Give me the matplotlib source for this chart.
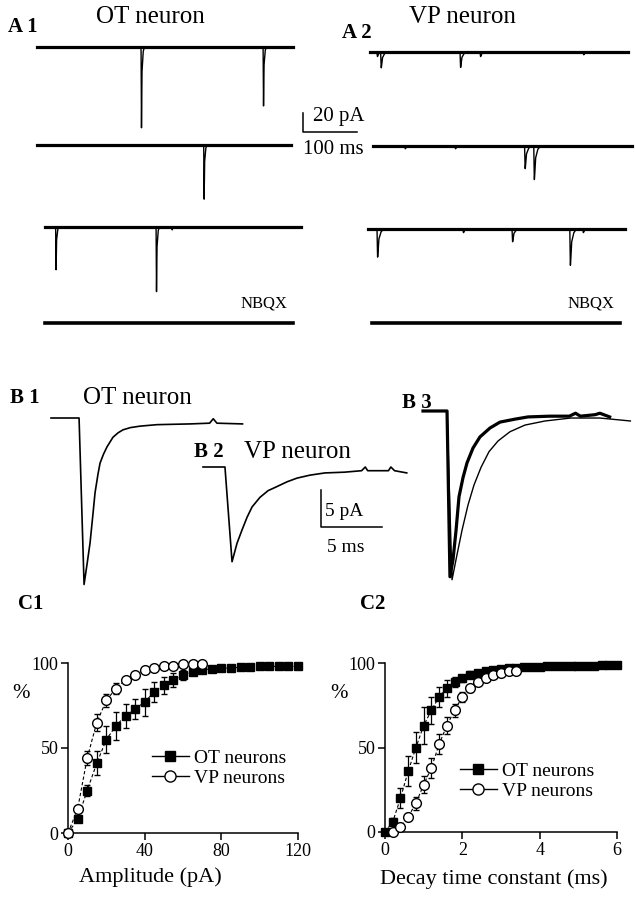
import numpy as np
import matplotlib
matplotlib.use('Agg')
import matplotlib.pyplot as plt
from matplotlib.lines import Line2D

plt.rcParams['font.family'] = ['Liberation Serif', 'DejaVu Serif']

W, H = 635, 899

# ---------------- data ----------------
# scale bars (value, length in picture pixels)
A_BAR_MS, A_BAR_PA = 100, 20
B_BAR_MS, B_BAR_PA = 5, 5

# panel A: spontaneous EPSCs -- sweep length (ms), event times (ms) and amplitudes (pA)
A1_SWEEP_MS = [474, 470, 474]
A1_EVENT_T = [[193, 419], [309], [20, 206, 235]]
A1_EVENT_AMP = [[85, 62], [57], [45, 68, 3]]

A2_SWEEP_MS = [478, 480, 476]
A2_EVENT_T = [[13, 20, 167, 204, 395], [59, 152, 281, 298], [17, 176, 267, 374, 398]]
A2_EVENT_AMP = [[5, 17, 17, 5, 3], [3, 3, 25, 37], [31, 4, 14, 40, 4]]

NBQX_SWEEP_MS = [459, 459]

# mEPSC shape used for the events in A (ms after onset, fraction of peak)
OT_SHAPE_T = [-0.3, 0.5, 1.5, 3.5, 6.0]
OT_SHAPE_F = [0.0, 1.0, 0.30, 0.06, 0.0]
VP_SHAPE_T = [-0.3, 0.8, 3.0, 7.0, 12.0]
VP_SHAPE_F = [0.0, 1.0, 0.35, 0.10, 0.0]

# panel B: averaged EPSCs (ms, pA)
B1_T = [0, 2.30, 2.71, 2.95, 3.20, 3.45, 3.61, 3.85, 4.02, 4.30, 4.59, 5.08, 5.50, 5.90, 6.50,
        7.30, 8.69, 11.4, 13.0, 13.3, 13.6, 15.7]
B1_I = [0, 0, -22.5, -19.8, -16.9, -12.8, -10.1, -7.6, -6.1, -4.9, -3.9, -2.6, -2.0, -1.6, -1.3,
        -1.1, -0.9, -0.8, -0.7, -0.1, -0.7, -0.8]
B2_T = [0, 1.80, 2.38, 2.79, 3.20, 3.61, 4.02, 4.67, 5.33, 5.99, 6.89, 7.71, 8.77, 10.0, 11.6,
        13.0, 13.3, 13.5, 15.2, 15.4, 15.7, 16.7]
B2_I = [0, 0, -12.8, -10.3, -8.5, -6.8, -5.4, -4.1, -3.2, -2.7, -2.0, -1.5, -1.1, -0.8, -0.7,
        -0.5, 0.0, -0.5, -0.5, 0.0, -0.5, -0.8]
# B3: normalised overlay
B3_OT_T = [0, 1.97, 2.21, 2.46, 2.71, 2.95, 3.28, 3.61, 4.10, 4.67, 5.49, 6.31, 7.54, 8.61, 10.4,
           12.0, 12.5, 12.9, 14.1, 14.5, 15.3]
B3_OT_I = [0, 0, -22.4, -20.1, -16.1, -11.6, -9.0, -7.0, -5.0, -3.5, -2.3, -1.5, -1.1, -0.8, -0.7,
           -0.7, -0.3, -0.7, -0.5, -0.3, -0.8]
B3_VP_T = [0, 1.97, 2.38, 2.79, 3.20, 3.69, 4.18, 4.76, 5.41, 6.15, 7.13, 8.36, 10.0, 12.1,
           14.5, 17.0]
B3_VP_I = [0, 0, -22.8, -19.4, -16.1, -12.7, -10.0, -7.6, -5.5, -4.05, -2.8, -1.9, -1.35, -0.95,
           -0.95, -1.35]

# panel C: cumulative distributions (%)
C1_OT_X = [0, 5, 10, 15, 20, 25, 30, 35, 40, 45, 50, 55, 60, 65, 70, 75, 80, 85, 90, 95, 100,
           105, 110, 115, 120]
C1_OT_Y = [0, 8, 25, 41, 55, 63, 69, 73, 77, 83, 87, 90, 93, 95, 96, 96.5, 97, 97, 97.5, 97.5,
           98, 98, 98, 98, 98]
C1_OT_E = [0, 1, 3, 7, 8, 8, 7, 6, 8, 6, 5, 4, 3, 2, 2, 1.5, 1, 1, 1, 0.5, 0.5, 0.5, 0.5, 0.5, 0.5]
C1_VP_X = [0, 5, 10, 15, 20, 25, 30, 35, 40, 45, 50, 55, 60, 65, 70]
C1_VP_Y = [0, 14, 44, 65, 78, 85, 90, 93, 96, 97, 98, 98.5, 99.5, 99.5, 99.5]
C1_VP_E = [0, 2, 4, 5, 4, 3, 2, 2, 1.5, 1, 1, 0.5, 0.5, 0.5, 0.5]

C2_OT_X = [0, 0.2, 0.4, 0.6, 0.8, 1.0, 1.2, 1.4, 1.6, 1.8, 2.0, 2.2, 2.4, 2.6, 2.8, 3.0, 3.2, 3.4,
           3.6, 3.8, 4.0, 4.2, 4.4, 4.6, 4.8, 5.0, 5.2, 5.4, 5.6, 5.8, 6.0]
C2_OT_Y = [0, 6, 20, 36, 50, 63, 72, 80, 85, 89, 91, 93, 94, 95, 96, 96.5, 97, 97, 97.5, 97.5,
           97.5, 98, 98, 98, 98, 98.5, 98.5, 98.5, 99, 99, 99]
C2_OT_E = [0, 2, 6, 9, 9, 11, 8, 6, 5, 3, 2, 2, 1.5, 1, 1, 1, 1, 0.5, 0.5, 0.5, 0.5, 0.5, 0.5,
           0.5, 0.5, 0.5, 0.5, 0.5, 0.5, 0.5, 0.5]
C2_VP_X = [0.2, 0.4, 0.6, 0.8, 1.0, 1.2, 1.4, 1.6, 1.8, 2.0, 2.2, 2.4, 2.6, 2.8, 3.0, 3.2, 3.4]
C2_VP_Y = [0, 3, 9, 17, 28, 38, 52, 63, 72, 80, 85, 89, 91, 93, 94, 95, 95.5]
C2_VP_E = [0, 1, 2, 4, 5, 6, 6, 5, 4, 3, 2, 2, 1.5, 1, 1, 1, 1]

SERIES = ['OT neurons', 'VP neurons']

# ---------------- helpers ----------------
fig = plt.figure(figsize=(W / 100, H / 100), dpi=100)


def px_axes(x0, y0, x1, y1):
    # rectangle in picture pixels, y measured downward
    ax = fig.add_axes([x0 / W, 1 - y1 / H, (x1 - x0) / W, (y1 - y0) / H])
    ax.set_axis_off()
    ax.patch.set_visible(False)
    return ax


def put(x, y, s, size, bold=False, **kw):
    kw.setdefault('va', 'center')
    fig.text(x / W, 1 - y / H, s, fontsize=size,
             fontweight='bold' if bold else 'normal', **kw)


def trace_axes(x0, ybase, length, ms_px, pa_px, above=14, below=140):
    w = length / ms_px
    ax = px_axes(x0, ybase - above, x0 + w, ybase + below)
    ax.set_xlim(0, length)
    ax.set_ylim(-below * pa_px, above * pa_px)
    return ax


def sweep(length, times, amps, shape_t, shape_f):
    t = np.arange(0, length + 0.25, 0.25)
    y = np.zeros_like(t)
    for et, amp in zip(times, amps):
        y -= amp * np.interp(t - et, shape_t, shape_f, left=0, right=0)
    return t, y


# ---------------- panel A ----------------
A_MS_PX = A_BAR_MS / 54.0
A_PA_PX = A_BAR_PA / 19.0

a1_pos = [(37, 47), (37, 145), (45, 227)]
a2_pos = [(370, 52), (373, 146), (368, 229)]
nbqx_pos = [(45, 323), (372, 323)]

for pos, lens, ts, amps, st, sf in [
        (a1_pos, A1_SWEEP_MS, A1_EVENT_T, A1_EVENT_AMP, OT_SHAPE_T, OT_SHAPE_F),
        (a2_pos, A2_SWEEP_MS, A2_EVENT_T, A2_EVENT_AMP, VP_SHAPE_T, VP_SHAPE_F)]:
    for (x0, yb), L, et, ea in zip(pos, lens, ts, amps):
        ax = trace_axes(x0, yb, L, A_MS_PX, A_PA_PX)
        t, y = sweep(L, et, ea, st, sf)
        ax.plot(t, y, color='black', lw=1.0, clip_on=False)
        ax.plot([0, L], [0, 0], color='black', lw=2.3, clip_on=False)

for (x0, yb), L in zip(nbqx_pos, NBQX_SWEEP_MS):
    ax = trace_axes(x0, yb, L, A_MS_PX, A_PA_PX)
    ax.plot([0, L], [0, 0], color='black', lw=2.6, clip_on=False)

sb = px_axes(303, 113, 357, 132)
sb.set_xlim(0, A_BAR_MS)
sb.set_ylim(0, A_BAR_PA)
sb.plot([0, 0, A_BAR_MS], [A_BAR_PA, 0, 0], color='black', lw=1.1, clip_on=False)

put(8, 27, 'A 1', 15, bold=True)
put(150, 17, 'OT neuron', 18, ha='center')
put(342, 33, 'A 2', 15, bold=True)
put(462, 17, 'VP neuron', 18, ha='center')
put(313, 116, '20 pA', 15)
put(303, 149, '100 ms', 15)
put(241, 304, 'NBQX', 12)
put(568, 304, 'NBQX', 12)

# ---------------- panel B ----------------
B_MS_PX = B_BAR_MS / 61.0
B_PA_PX = B_BAR_PA / 37.0

ax = trace_axes(51, 418, B1_T[-1], B_MS_PX, B_PA_PX, below=200)
ax.plot(B1_T, B1_I, color='black', lw=1.2, clip_on=False)
ax = trace_axes(203, 467, B2_T[-1], B_MS_PX, B_PA_PX, below=200)
ax.plot(B2_T, B2_I, color='black', lw=1.2, clip_on=False)
ax = trace_axes(423, 411, B3_VP_T[-1], B_MS_PX, B_PA_PX, below=200)
ax.plot(B3_VP_T, B3_VP_I, color='black', lw=1.0, clip_on=False)
ax.plot(B3_OT_T, B3_OT_I, color='black', lw=2.3, clip_on=False)

sb = px_axes(321, 490, 382, 527)
sb.set_xlim(0, B_BAR_MS)
sb.set_ylim(0, B_BAR_PA)
sb.plot([0, 0, B_BAR_MS], [B_BAR_PA, 0, 0], color='black', lw=1.1, clip_on=False)

put(10, 398, 'B 1', 15, bold=True)
put(83, 398, 'OT neuron', 18)
put(194, 452, 'B 2', 15, bold=True)
put(244, 452, 'VP neuron', 18)
put(402, 403, 'B 3', 15, bold=True)
put(325, 512, '5 pA', 14)
put(327, 548, '5 ms', 14)

# ---------------- panel C ----------------


def cum_axes(x0, x1, y100, y0, xmax, xticks):
    ax = fig.add_axes([x0 / W, 1 - y0 / H, (x1 - x0) / W, (y0 - y100) / H])
    ax.set_xlim(0, xmax)
    ax.set_ylim(0, 100)
    for s in ['top', 'right']:
        ax.spines[s].set_visible(False)
    for s in ['left', 'bottom']:
        ax.spines[s].set_linewidth(1.1)
    ax.set_xticks(xticks)
    ax.set_yticks([0, 50, 100])
    ax.tick_params(direction='out', length=5, width=1.1, labelsize=13, pad=2)
    return ax


def cum_plot(ax, x, y, e, marker, face, ms):
    ax.plot(x, y, color='black', lw=0.8, ls=(0, (3, 2)), zorder=2)
    ax.errorbar(x, y, yerr=e, fmt=marker, ms=ms, mfc=face, mec='black', mew=1.0,
                ecolor='black', elinewidth=0.9, capsize=2.5, capthick=0.9, zorder=3)


def cum_legend(ax, lx, ly):
    handles = [Line2D([], [], color='black', lw=1.0, marker='s', ms=7, mfc='black', mec='black'),
               Line2D([], [], color='black', lw=1.0, marker='o', ms=8, mfc='white', mec='black')]
    ax.legend(handles, SERIES, loc='center left', bbox_to_anchor=(lx / W, 1 - ly / H),
              bbox_transform=fig.transFigure, frameon=False, fontsize=14, handlelength=1.9,
              handletextpad=0.25, labelspacing=0.1, borderpad=0, borderaxespad=0)


c1 = cum_axes(68, 298, 663, 833, 120, [0, 40, 80, 120])
cum_plot(c1, C1_OT_X, C1_OT_Y, C1_OT_E, 's', 'black', 6)
cum_plot(c1, C1_VP_X, C1_VP_Y, C1_VP_E, 'o', 'white', 7)
c1.set_xlabel('Amplitude (pA)', fontsize=16, va='center')
c1.xaxis.set_label_coords(0.36, -0.26)
cum_legend(c1, 152, 768)

c2 = cum_axes(385, 617, 663, 832, 6, [0, 2, 4, 6])
cum_plot(c2, C2_OT_X, C2_OT_Y, C2_OT_E, 's', 'black', 6)
cum_plot(c2, C2_VP_X, C2_VP_Y, C2_VP_E, 'o', 'white', 7)
c2.set_xlabel('Decay time constant (ms)', fontsize=16, va='center')
c2.xaxis.set_label_coords(0.47, -0.28)
cum_legend(c2, 460, 781)

for ax in (c1, c2):
    for art in ax.get_children():
        art.set_clip_on(False)

put(18, 604, 'C1', 15, bold=True)
put(360, 604, 'C2', 15, bold=True)
put(12, 693, '%', 15)
put(330, 693, '%', 15)

fig.savefig('out.png', dpi=100)
